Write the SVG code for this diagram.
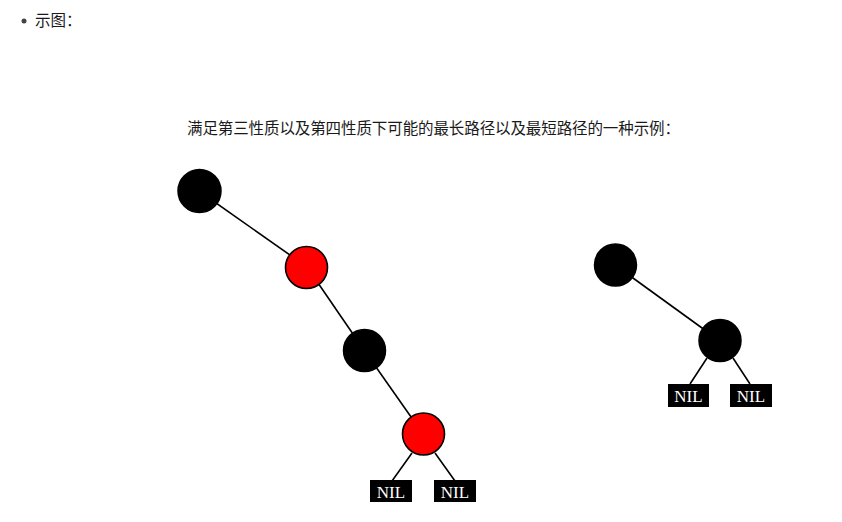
<svg xmlns="http://www.w3.org/2000/svg" width="842" height="522" viewBox="0 0 842 522">
<style>
.cjk{font-family:"Microsoft YaHei","Noto Sans CJK SC",sans-serif;fill:#1a1a1a;font-size:15.5px}
.edge{stroke:#000;stroke-width:1.6;fill:none}
.blk{fill:#000;stroke:#000;stroke-width:1.5}
.red{fill:#ff0000;stroke:#000;stroke-width:1.6}
.nilbox{fill:#000}
.nil{font-family:"Liberation Serif",serif;font-size:17px;fill:#fff;text-anchor:middle}
</style>
<rect width="842" height="522" fill="#fff"/>
<circle cx="24" cy="21" r="2.5" fill="#444"/>
<text class="cjk" x="35" y="26">示图：</text>
<text class="cjk" x="187" y="134" textLength="493" lengthAdjust="spacing">满足第三性质以及第四性质下可能的最长路径以及最短路径的一种示例：</text>
<g id="connectors">
<line class="edge" x1="199" y1="191" x2="307" y2="267"/>
<line class="edge" x1="307" y1="267" x2="364" y2="350"/>
<line class="edge" x1="364" y1="350" x2="423" y2="434"/>
<line class="edge" x1="412" y1="453" x2="392" y2="481"/>
<line class="edge" x1="435" y1="453" x2="455" y2="481"/>
<line class="edge" x1="615" y1="265" x2="720" y2="341"/>
<line class="edge" x1="707" y1="358" x2="690" y2="384"/>
<line class="edge" x1="733" y1="358" x2="750" y2="384"/>
</g>
<g id="n1"><circle class="blk" cx="199.5" cy="191" r="21.5"/></g>
<g id="n2"><circle class="red" cx="306.5" cy="267.5" r="21"/></g>
<g id="n3"><circle class="blk" cx="364.5" cy="350.5" r="21"/></g>
<g id="n4"><circle class="red" cx="423.5" cy="434" r="21"/></g>
<g id="nil1"><rect class="nilbox" x="370" y="480" width="42" height="22"/><text class="nil" x="391" y="497.5">NIL</text></g>
<g id="nil2"><rect class="nilbox" x="434" y="480" width="42" height="22"/><text class="nil" x="455" y="497.5">NIL</text></g>
<g id="m1"><circle class="blk" cx="615.5" cy="265" r="21"/></g>
<g id="m2"><circle class="blk" cx="720" cy="340.5" r="21"/></g>
<g id="nil3"><rect class="nilbox" x="668" y="384" width="41" height="23"/><text class="nil" x="688.5" y="401.5">NIL</text></g>
<g id="nil4"><rect class="nilbox" x="730" y="384" width="42" height="23"/><text class="nil" x="751" y="401.5">NIL</text></g>
</svg>
